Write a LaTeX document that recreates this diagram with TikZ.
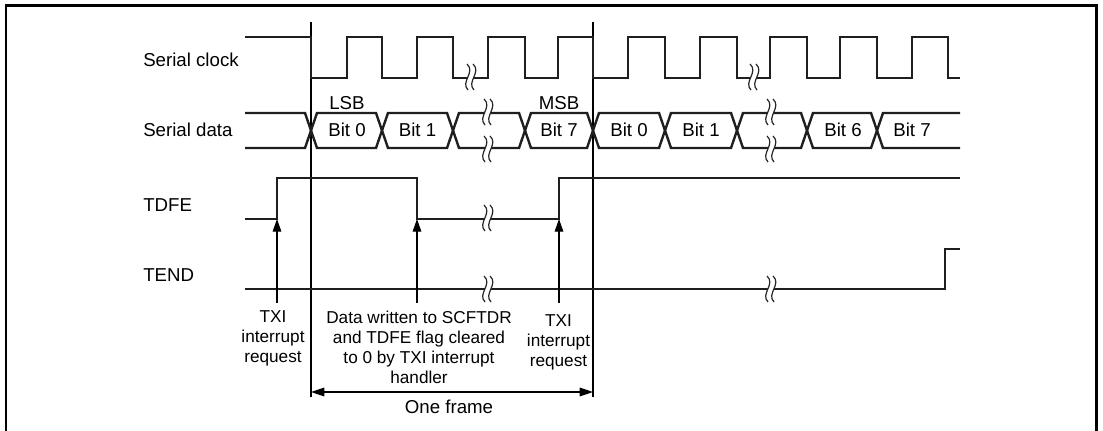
\documentclass[tikz,border=0pt]{standalone}
\usepackage{fontspec}
\setmainfont{Liberation Sans}
\usetikzlibrary{arrows.meta}
\begin{document}
\begin{tikzpicture}[x=0.75pt,y=-0.75pt,
  sig/.style={line width=1.8pt, line join=miter, color=black!88},
  refline/.style={line width=0.8pt, color=black},
  frameline/.style={line width=1.8pt, color=black},
  lbl/.style={font=\fontsize{14pt}{16pt}\selectfont, inner sep=0pt, anchor=base},
  note/.style={font=\fontsize{12.9pt}{15pt}\selectfont, align=center, inner sep=0pt, anchor=north},
  uparrow/.style={line width=0.8pt, -{Triangle[length=9.5pt,width=6.5pt]}},
  brk/.pic={
    \fill[white] (-3,-13) .. controls (6,-5) and (-10,5) .. (-2,13) -- (4,13) .. controls (-4,5) and (12,-5) .. (3,-13) -- cycle;
    \draw[line width=0.9pt, black!85] (-3,-13) .. controls (6,-5) and (-10,5) .. (-2,13);
    \draw[line width=0.9pt, black!85] (3,-13) .. controls (12,-5) and (-4,5) .. (4,13);
  }
]
\useasboundingbox (0,0) rectangle (1103,431);
% outer frame (bottom edge cut off)
\draw[frameline] (6,431) -- (6,5.5) -- (1096.5,5.5) -- (1096.5,431);

% signal names
\node[lbl, anchor=base west] (nclk) at (143,66.5) {Serial clock};
\node[lbl, anchor=base west] (ndat) at (143,136.5) {Serial data};
\node[lbl, anchor=base west] (ntdfe) at (143,211.5) {TDFE};
\node[lbl, anchor=base west] (ntend) at (143,281.5) {TEND};

% reference lines of one frame
\coordinate (f1t) at (311,22);
\coordinate (f1b) at (311,397);
\coordinate (f2t) at (593,22);
\coordinate (f2b) at (593,397);
\draw[refline] (f1t) -- (f1b);
\draw[refline] (f2t) -- (f2b);

% serial clock
\draw[sig] (245,37) -- (311,37) |- (347,78) |- (382,37) |- (417,78) |- (453,37)
  |- (488,78) |- (525,37) |- (558,78) |- (593,37) |- (628,78) |- (665,37)
  |- (700,78) |- (737,37) |- (770,78) |- (807,37) |- (840,78) |- (877,37)
  |- (912,78) |- (948,37) |- (960,78);

% serial data
\draw[sig] (245,113) -- (305,113) -- (311,130.5) -- (305,148) -- (245,148);
\foreach \a/\b in {311/382,382/453,453/525,525/593,593/665,665/737,737/807,807/877}{
  \draw[sig] (\a,130.5) -- (\a+6,113) -- (\b-6,113) -- (\b,130.5) -- (\b-6,148) -- (\a+6,148) -- cycle;
}
\draw[sig] (960,113) -- (883,113) -- (877,130.5) -- (883,148) -- (960,148);

\node[lbl] (b0) at (347,137) {Bit 0};
\node[lbl] (b1) at (417.5,137) {Bit 1};
\node[lbl] (b7) at (559,137) {Bit 7};
\node[lbl] (c0) at (629,137) {Bit 0};
\node[lbl] (c1) at (701,137) {Bit 1};
\node[lbl] (c6) at (843,137) {Bit 6};
\node[lbl] (c7) at (912,137) {Bit 7};
\node[lbl] (lsb) at (347,109.5) {LSB};
\node[lbl] (msb) at (559,110) {MSB};

% TDFE
\draw[sig] (245,219) -- (277,219) -- (277,178) -- (417,178) -- (417,219) -- (559,219) -- (559,178) -- (960,178);

% TEND
\draw[sig] (245,289) -- (945,289) -- (945,249) -- (960,249);

% break marks
\pic at (470,77) {brk};
\pic at (753,77) {brk};
\pic at (487,112) {brk};
\pic at (487,149) {brk};
\pic at (770,112) {brk};
\pic at (770,149) {brk};
\pic at (487,218) {brk};
\pic at (487,289) {brk};
\pic at (770,289) {brk};

% interrupt arrows
\coordinate (a1s) at (277,303);
\coordinate (a1e) at (277,219);
\coordinate (a2s) at (417,303);
\coordinate (a2e) at (417,219);
\coordinate (a3s) at (559,303);
\coordinate (a3e) at (559,219);
\draw[uparrow] (a1s) -- (a1e);
\draw[uparrow] (a2s) -- (a2e);
\draw[uparrow] (a3s) -- (a3e);

% notes
\node[note] (txi1) at (273,310.7) {TXI\\interrupt\\request};
\node[note] (data) at (419,311) {Data written to SCFTDR\\and TDFE flag cleared\\to 0 by TXI interrupt\\handler};
\node[note] (txi2) at (558.5,314.5) {TXI\\interrupt\\request};

% one frame
\coordinate (ofl) at (311,392);
\coordinate (ofr) at (593,392);
\draw[line width=0.8pt, {Triangle[length=10pt,width=6.5pt]}-{Triangle[length=10pt,width=6.5pt]}] (ofl) -- (ofr);
\node[lbl] (oneframe) at (449,413.3) {One frame};
\end{tikzpicture}
\end{document}
